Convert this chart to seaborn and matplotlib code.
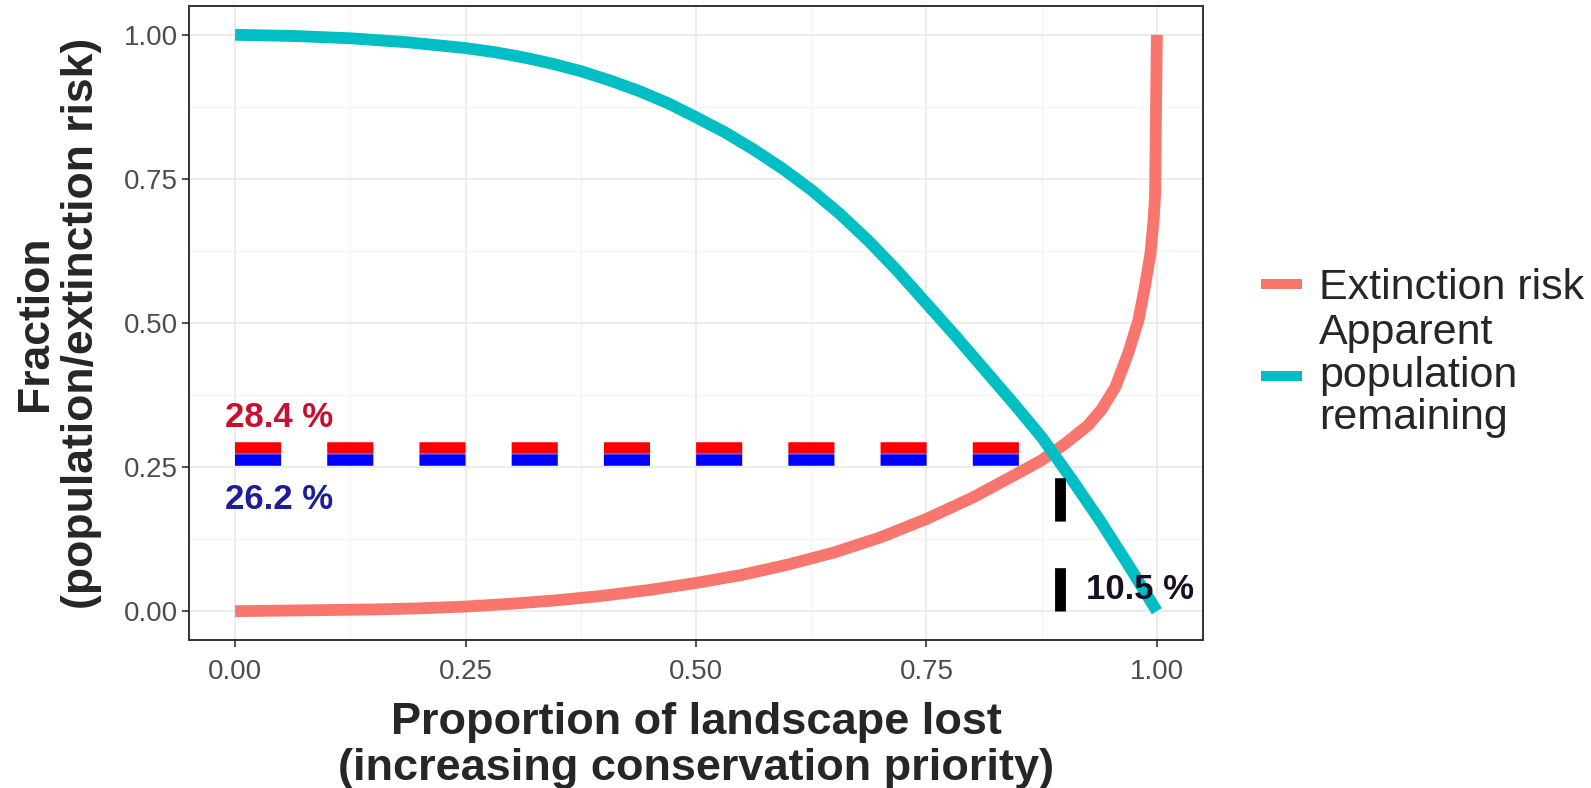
import numpy as np
import pandas as pd
import seaborn as sns
from matplotlib import pyplot as plt
from matplotlib.ticker import MultipleLocator

# values
risk_loss = [0, 0.05, 0.1, 0.15, 0.2, 0.25, 0.3, 0.35, 0.4, 0.45, 0.5, 0.55, 0.6, 0.65,
             0.7, 0.75, 0.8, 0.85, 0.875, 0.9, 0.925, 0.94, 0.955, 0.969, 0.98, 0.987,
             0.993, 0.9965, 0.998, 1.0]
extinction = [0, 0.001, 0.002, 0.003, 0.005, 0.008, 0.013, 0.019, 0.027, 0.037, 0.049, 0.063,
              0.081, 0.102, 0.128, 0.160, 0.197, 0.240, 0.262, 0.290, 0.322, 0.350, 0.389,
              0.448, 0.505, 0.563, 0.620, 0.680, 0.72, 1.0]
pop_loss = [0, 0.0625, 0.125, 0.1875, 0.25, 0.28125, 0.3125, 0.34375, 0.375, 0.40625,
            0.4375, 0.46875, 0.5, 0.53125, 0.5625, 0.59375, 0.625, 0.65625, 0.6875,
            0.71875, 0.75, 0.78125, 0.8125, 0.84375, 0.875, 0.90625, 0.9375, 0.96875, 1.0]
population = [1.0, 0.998, 0.994, 0.987, 0.977, 0.970, 0.961, 0.950, 0.937, 0.921,
              0.903, 0.882, 0.857, 0.831, 0.801, 0.768, 0.731, 0.689, 0.642,
              0.590, 0.534, 0.478, 0.420, 0.362, 0.302, 0.232, 0.159, 0.081, 0.0]
series_names = ["Extinction risk", "Apparent\npopulation\nremaining"]
series_colors = ["#F8766D", "#00BFC4"]

# crossing point of the two curves
cross_x = 0.895
risk_at_cross = 0.284
pop_at_cross = 0.262

ticks = [0, 0.25, 0.5, 0.75, 1.0]
tick_labels = ["0.00", "0.25", "0.50", "0.75", "1.00"]

df = pd.DataFrame({
    "loss": risk_loss + pop_loss,
    "value": extinction + population,
    "series": [series_names[0]] * len(risk_loss) + [series_names[1]] * len(pop_loss),
})

sns.set_style("white")
plt.rcParams['font.family'] = ['Liberation Sans', 'DejaVu Sans']

fig, ax = plt.subplots(figsize=(15.91, 7.88), dpi=100)
fig.subplots_adjust(left=0.1188, right=0.7561, top=0.9924, bottom=0.1878)

sns.lineplot(data=df, x="loss", y="value", hue="series", hue_order=series_names,
             palette=series_colors, linewidth=8.5, solid_capstyle="butt",
             solid_joinstyle="round", ax=ax)

# dashed guide lines at the crossing
ax.plot([0, cross_x], [risk_at_cross, risk_at_cross], color="#FF0000", lw=8.3,
        dashes=(4, 4), dash_capstyle="butt")
ax.plot([0, cross_x], [pop_at_cross, pop_at_cross], color="#0000FF", lw=8.3,
        dashes=(4, 4), dash_capstyle="butt")
ax.plot([cross_x, cross_x], [0, pop_at_cross], color="black", lw=7.8,
        dashes=(4, 4.3), dash_capstyle="butt")

ax.text(-0.011, 0.336, f"{risk_at_cross * 100:.1f} %", color="#C8102E", fontsize=25,
        fontweight="bold", ha="left", va="center")
ax.text(-0.011, 0.193, f"{pop_at_cross * 100:.1f} %", color="#1C1C9C", fontsize=25,
        fontweight="bold", ha="left", va="center")
ax.text(cross_x + 0.028, 0.038, f"{(1 - cross_x) * 100:.1f} %", color="#1A0D26",
        fontsize=25, fontweight="bold", ha="left", va="center")

ax.set_xlim(-0.05, 1.05)
ax.set_ylim(-0.05, 1.05)
ax.set_xticks(ticks)
ax.set_xticklabels(tick_labels)
ax.set_yticks(ticks)
ax.set_yticklabels(tick_labels)
ax.xaxis.set_minor_locator(MultipleLocator(0.125))
ax.yaxis.set_minor_locator(MultipleLocator(0.125))
ax.tick_params(which="major", length=5, width=1.2, color="#333333", labelcolor="#4D4D4D",
               labelsize=20, pad=3, bottom=True, left=True)
ax.tick_params(axis="x", which="major", pad=9)
ax.tick_params(which="minor", length=0)
ax.grid(which="major", color="#EBEBEB", lw=1.3)
ax.grid(which="minor", color="#F3F3F3", lw=0.8)
ax.set_axisbelow(True)
for s in ax.spines.values():
    s.set_color("#333333")
    s.set_linewidth(1.4)

ax.set_xlabel("")
ax.set_ylabel("")
fig.text(0.4375, 0.054, "Proportion of landscape lost\n(increasing conservation priority)",
         ha="center", va="center", fontsize=32.5, fontweight="bold", linespacing=1.17)
fig.text(0.0368, 0.590, "Fraction\n(population/extinction risk)", rotation=90,
         ha="center", va="center", fontsize=32, fontweight="bold", linespacing=1.14)

handles, labels = ax.get_legend_handles_labels()
leg = ax.legend(handles[:2], labels[:2], loc="center left",
                bbox_to_anchor=(1261 / 1591, 0.552), bbox_transform=fig.transFigure,
                frameon=False, fontsize=31, handlelength=0.95, handletextpad=0.4,
                borderpad=0, borderaxespad=0, labelspacing=0.12)
for line in leg.get_lines():
    line.set_linewidth(7.2)
    line.set_solid_capstyle("butt")
for t in leg.get_texts():
    t.set_linespacing(1.08)

plt.savefig("out.png", dpi=100)
